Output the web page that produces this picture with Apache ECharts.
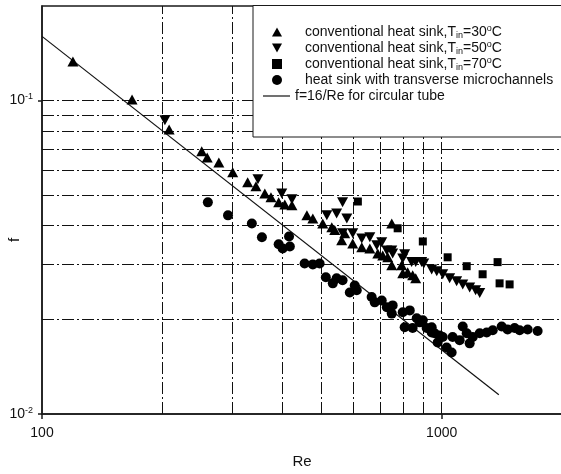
<!DOCTYPE html>
<html>
<head>
<meta charset="utf-8">
<script src="https://cdn.jsdelivr.net/npm/echarts@6/dist/echarts.min.js"></script>
<style>html,body{margin:0;padding:0;background:#fff}#c{width:561px;height:474px}</style>
</head>
<body>
<div id="c"></div>
<script>
// ---- data ----
const upRe = [119.5, 168, 208, 251, 259, 277, 300, 327, 343, 361, 374, 391, 405, 422, 460, 476, 504, 531, 540, 572, 562, 599, 631, 661, 692, 733, 750, 794, 822, 799, 846, 861, 750, 712];
const upF  = [0.1331, 0.1007, 0.0808, 0.0688, 0.0658, 0.0634, 0.0590, 0.0548, 0.0532, 0.0505, 0.0491, 0.0473, 0.0466, 0.0463, 0.0430, 0.0420, 0.0405, 0.0394, 0.0386, 0.0377, 0.0358, 0.0350, 0.0340, 0.0337, 0.0325, 0.0316, 0.0405, 0.0298, 0.0283, 0.0281, 0.0277, 0.0271, 0.0298, 0.0320];

const downRe = [203, 347, 398, 422, 516, 546, 565, 579, 565, 599, 631, 661, 688, 708, 729, 750, 754, 799, 808, 841, 861, 891, 902, 944, 972, 1006, 1047, 1090, 1129, 1175, 1216, 1245];
const downF  = [0.0864, 0.0560, 0.0505, 0.0484, 0.0430, 0.0436, 0.0473, 0.0420, 0.0377, 0.0377, 0.0363, 0.0366, 0.0345, 0.0353, 0.0332, 0.0332, 0.0325, 0.0313, 0.0323, 0.0305, 0.0305, 0.0305, 0.0302, 0.0289, 0.0285, 0.0279, 0.0271, 0.0265, 0.0259, 0.0253, 0.0248, 0.0243];

const sqRe = [617, 776, 897, 1035, 1155, 1266, 1380, 1396, 1479];
const sqF  = [0.0476, 0.0391, 0.0355, 0.0316, 0.0296, 0.0279, 0.0305, 0.0261, 0.0259];

const cirRe = [260, 292, 335, 355, 391, 415, 417, 400, 454, 476, 495, 513, 534, 546, 565, 589, 606, 613, 668, 680, 708, 729, 754, 750, 799, 832, 866, 897, 881, 808, 846, 917, 944, 944, 960, 989, 977, 1006, 1029, 1059, 1065, 1109, 1129, 1155, 1175, 1196, 1245, 1296, 1342, 1413, 1462, 1522, 1567, 1641, 1738];
const cirF  = [0.0473, 0.0430, 0.0405, 0.0366, 0.0348, 0.0368, 0.0342, 0.0337, 0.0302, 0.0300, 0.0302, 0.0273, 0.0261, 0.0271, 0.0267, 0.0244, 0.0257, 0.0248, 0.0236, 0.0227, 0.0230, 0.0219, 0.0222, 0.0209, 0.0211, 0.0214, 0.0202, 0.0199, 0.0196, 0.0189, 0.0188, 0.0188, 0.0189, 0.0182, 0.0181, 0.0178, 0.0169, 0.0176, 0.0163, 0.0157, 0.0176, 0.0172, 0.0190, 0.0181, 0.0168, 0.0176, 0.0181, 0.0182, 0.0185, 0.0190, 0.0186, 0.0188, 0.0185, 0.0186, 0.0184];

const lineRe = [100, 1390];
const lineF  = [0.16, 0.01151];

const gridRe = [200, 300, 400, 500, 600, 700, 800, 900, 1000];
const gridF  = [0.02, 0.03, 0.04, 0.05, 0.06, 0.07, 0.08, 0.09, 0.1];
const xTickVals = [100, 1000];
const yTickVals = [0.01, 0.1];

const N30 = 'conventional heat sink,Tin=30oC';
const N50 = 'conventional heat sink,Tin=50oC';
const N70 = 'conventional heat sink,Tin=70oC';
const NMC = 'heat sink with transverse microchannels';
const NLN = 'f=16/Re for circular tube';

// ---- chart ----
const zip = (a, b) => a.map((v, i) => [v, b[i]]);
const FONT = '"Liberation Sans", Arial, Helvetica, sans-serif';
const ax = { color: '#1a1a1a', width: 1.5 };
const dash = [12, 3, 2, 3];
const mk = { color: '#000', opacity: 1 };

const chart = echarts.init(document.getElementById('c'), null, { renderer: 'canvas' });
const legendRich = {
  sub: { fontSize: 9, fontFamily: FONT, color: '#111', verticalAlign: 'bottom', lineHeight: 9 },
  sup: { fontSize: 9, fontFamily: FONT, color: '#111', verticalAlign: 'top', lineHeight: 9 }
};
function legendFmt(name) {
  const m = name.match(/^(conventional heat sink,T)in=(\d+)oC$/);
  if (m) return m[1] + '{sub|in}=' + m[2] + '{sup|o}C';
  return name;
}

chart.setOption({
  animation: false,
  backgroundColor: '#fff',
  grid: { left: 42, top: 6, width: 520, height: 408, containLabel: false, outerBoundsMode: 'none',
    show: true, borderColor: '#1a1a1a', borderWidth: 1.5, backgroundColor: 'transparent' },
  graphic: [{
    type: 'rect', z: 3,
    shape: { x: 253, y: 5.5, width: 330, height: 131.5 },
    style: { fill: '#fff', stroke: '#1a1a1a', lineWidth: 1 }
  }],
  legend: [{
    data: [
      { name: N30, icon: 'path://M5,0L10,9L0,9Z' },
      { name: N50, icon: 'path://M0,0L10,0L5,9Z' },
      { name: N70, icon: 'rect' },
      { name: NMC, icon: 'circle' }
    ],
    orient: 'vertical', left: 272, top: 24, padding: 0, itemGap: 0,
    itemWidth: 10, itemHeight: 10, selectedMode: false,
    formatter: legendFmt,
    itemStyle: { color: '#000', opacity: 1 },
    textStyle: { fontSize: 14, fontFamily: FONT, color: '#111', lineHeight: 16, padding: [0, 0, 0, 18], rich: legendRich },
    z: 5
  }, {
    data: [{ name: NLN, icon: 'rect' }],
    orient: 'vertical', left: 263, top: 88, padding: 0, itemGap: 0,
    itemWidth: 27, itemHeight: 1.2, selectedMode: false,
    itemStyle: { color: '#111', opacity: 1 },
    textStyle: { fontSize: 14, fontFamily: FONT, color: '#111', lineHeight: 16 },
    z: 5
  }],
  xAxis: {
    type: 'log', logBase: 10, min: 100, max: 2000,
    axisLine: { show: true, onZero: false, lineStyle: ax },
    axisTick: { show: true, length: 5, customValues: xTickVals, lineStyle: ax },
    axisLabel: { customValues: xTickVals, margin: 12, fontSize: 14, fontFamily: FONT, color: '#111',
      formatter: v => String(Math.round(v)) },
    splitLine: { show: false },
    name: 'Re', nameLocation: 'middle', nameGap: 40, nameMoveOverlap: false,
    nameTextStyle: { fontSize: 15, fontFamily: FONT, color: '#111' }
  },
  yAxis: {
    type: 'log', logBase: 10, min: 0.01, max: 0.2,
    axisLine: { show: true, onZero: false, lineStyle: ax },
    axisTick: { show: true, length: 4, customValues: yTickVals, lineStyle: ax },
    axisLabel: { customValues: yTickVals, margin: 9, fontSize: 14, fontFamily: FONT, color: '#111', lineHeight: 16,
      formatter: v => '10{sup|' + Math.round(Math.log10(v)) + '}',
      rich: { sup: { fontSize: 9, fontFamily: FONT, color: '#111', verticalAlign: 'top', lineHeight: 9 } } },
    splitLine: { show: false },
    name: 'f', nameLocation: 'middle', nameGap: 20, nameMoveOverlap: false,
    nameTextStyle: { fontSize: 15, fontFamily: FONT, color: '#111', padding: [0, 60, 0, 0] }
  },
  series: [
    {
      name: NLN, type: 'line', data: zip(lineRe, lineF), showSymbol: false, symbol: 'none',
      lineStyle: { color: '#111', width: 1.2 }, itemStyle: { color: '#111' }, z: 2,
      markLine: {
        silent: true, symbol: ['none', 'none'], z: 1, animation: false,
        label: { show: false },
        lineStyle: { color: '#111', width: 1, type: dash },
        data: gridRe.map(v => ({ xAxis: v })).concat(gridF.map(v => ({ yAxis: v })))
      }
    },
    { name: N30, type: 'scatter', data: zip(upRe, upF), symbol: 'triangle', symbolSize: [11, 10], itemStyle: mk, z: 2 },
    { name: N50, type: 'scatter', data: zip(downRe, downF), symbol: 'triangle', symbolRotate: 180, symbolSize: [11, 10], itemStyle: mk, z: 2 },
    { name: N70, type: 'scatter', data: zip(sqRe, sqF), symbol: 'rect', symbolSize: 8, itemStyle: mk, z: 2 },
    { name: NMC, type: 'scatter', data: zip(cirRe, cirF), symbol: 'circle', symbolSize: 10, itemStyle: mk, z: 2 }
  ]
});
</script>
</body>
</html>
